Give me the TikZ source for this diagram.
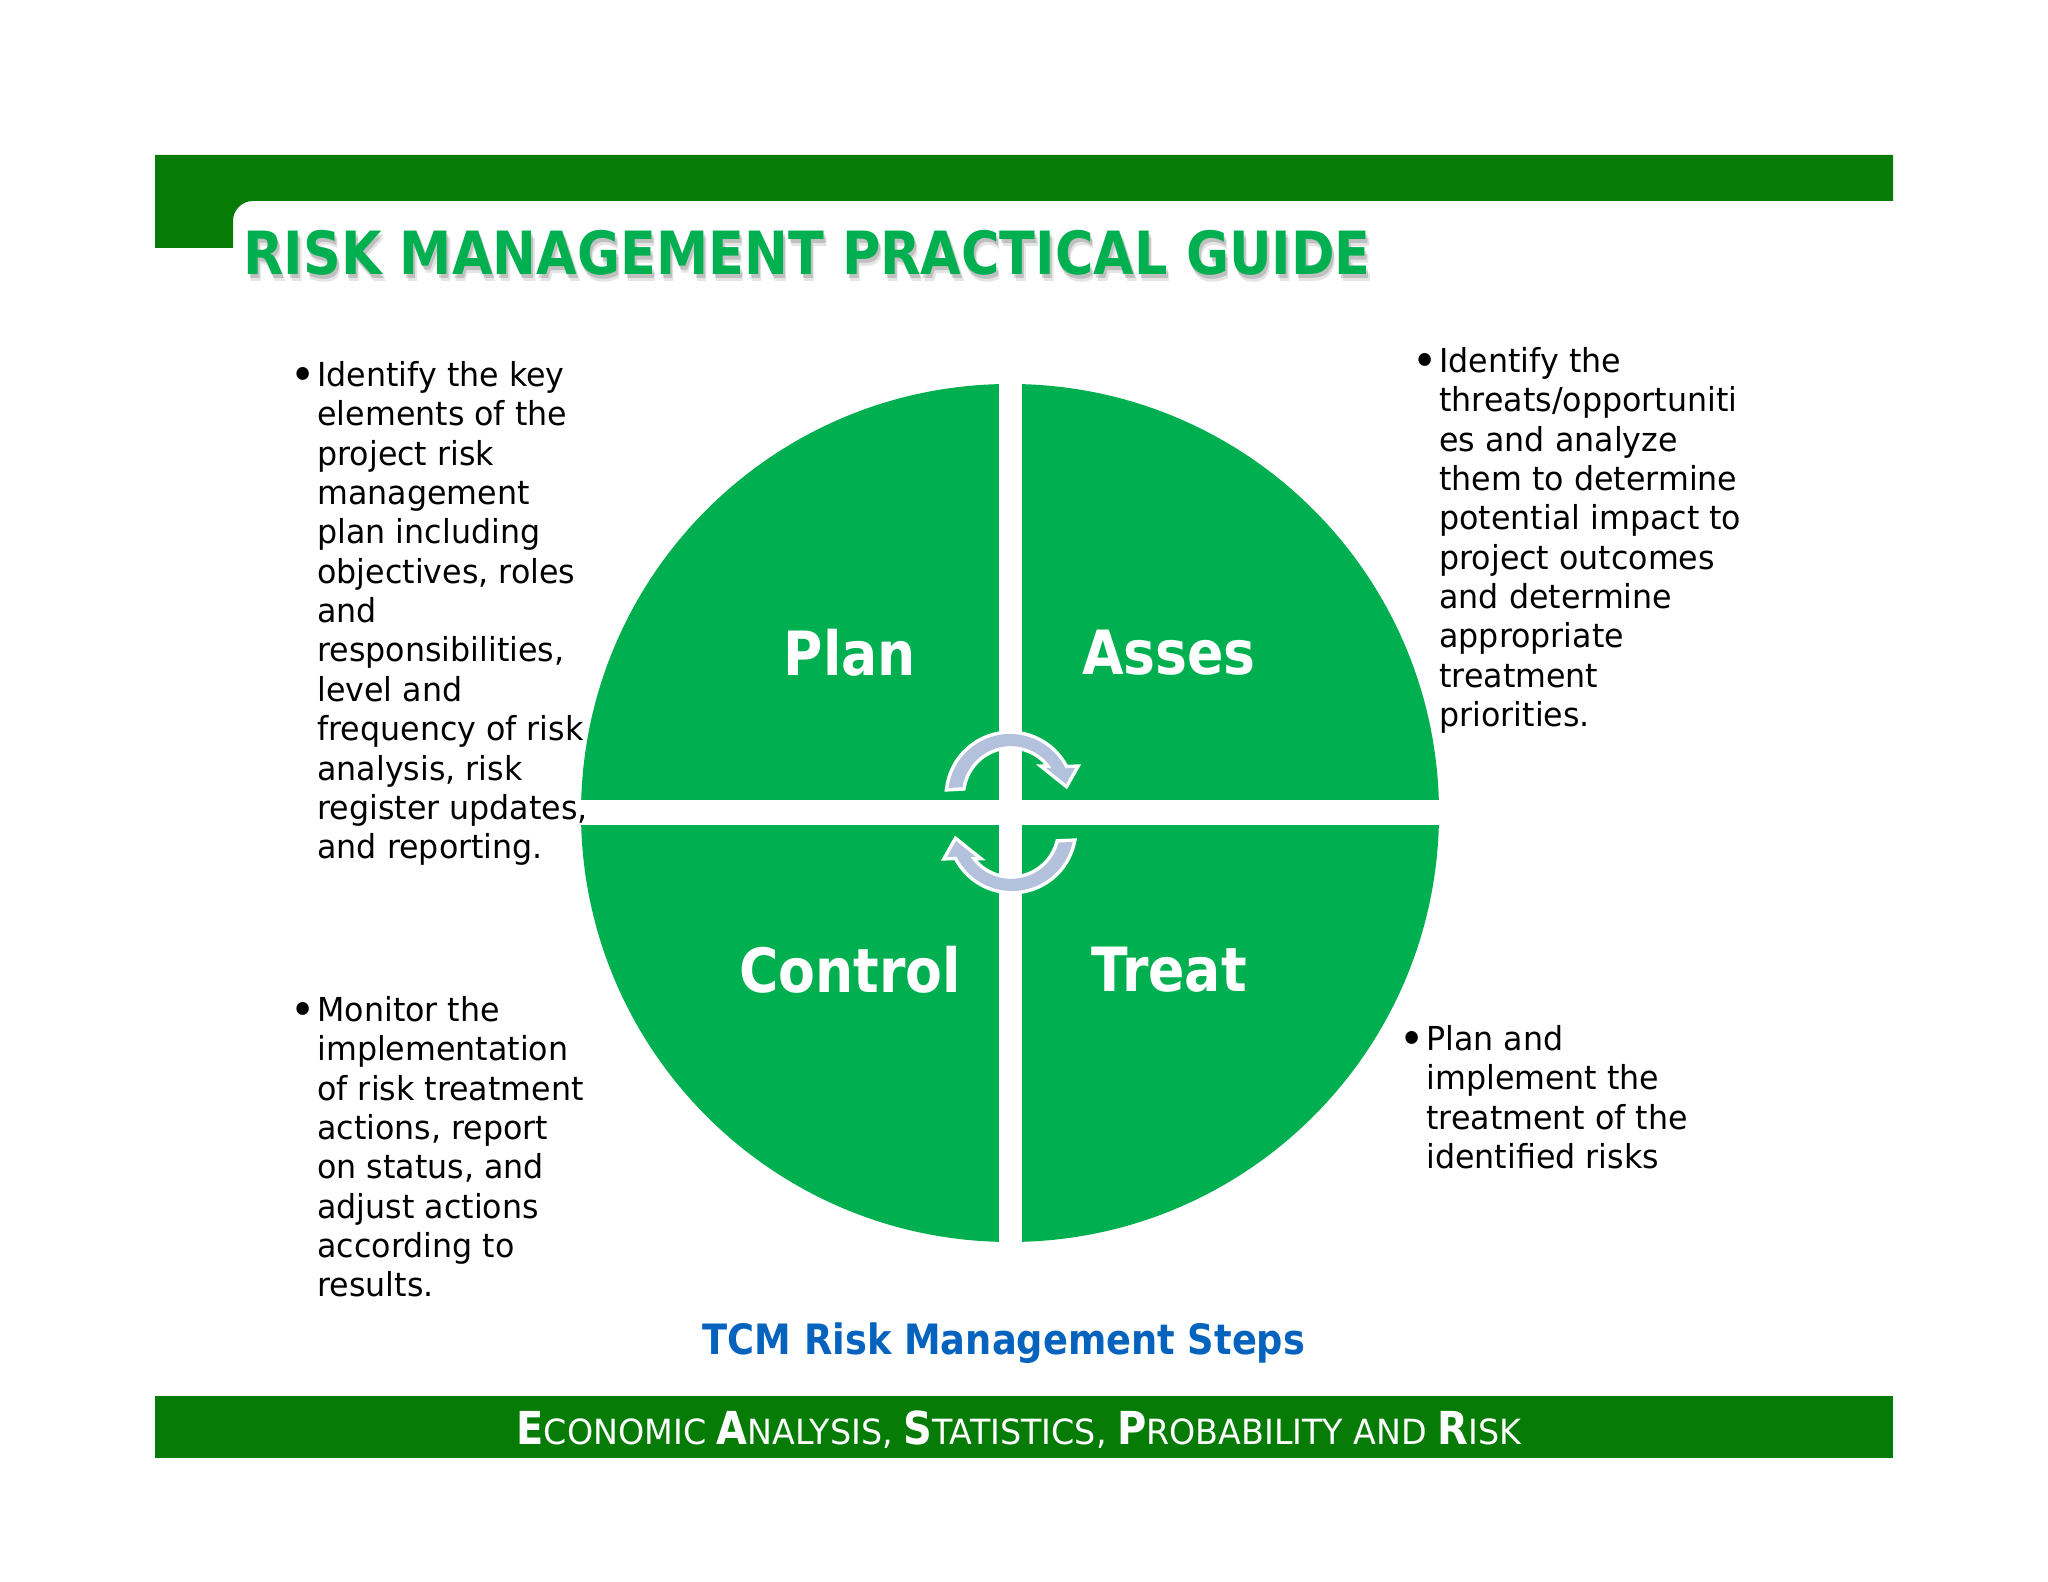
\documentclass[tikz,border=0pt]{standalone}
\usepackage{fontspec}
\setmainfont{DejaVu Sans}[FakeStretch=0.96]
\newfontfamily\tbold{DejaVu Sans}[FakeStretch=0.88]
\definecolor{bargreen}{HTML}{067C06}
\definecolor{quadgreen}{HTML}{00B050}
\definecolor{capblue}{HTML}{0563BD}
\definecolor{arrowfill}{HTML}{B4C1DD}
\tikzset{
  x=0.5pt,y=0.5pt,
  bodytext/.style={anchor=north west,inner sep=0pt,align=left,font=\fontsize{16.5pt}{19.68pt}\selectfont,text=black},
  bulletmark/.style={anchor=north west,inner sep=0pt,font=\fontsize{16.5pt}{19.68pt}\selectfont,text=black},
  quadlabel/.style={inner sep=0pt,text=white,font=\tbold\bfseries\fontsize{30.5pt}{34pt}\selectfont},
  titletext/.style={anchor=base west,inner sep=0pt,font=\tbold\bfseries\fontsize{29.8pt}{34pt}\selectfont},
  turnarrow/.style={fill=arrowfill,line join=miter,preaction={draw=white,line width=3.5pt}},
}
\newcommand{\titlestr}{RISK MANAGEMENT PRACTICAL GUIDE}
\newcommand{\capl}[1]{{\tbold\bfseries\fontsize{22.7pt}{26pt}\selectfont #1}}
\newcommand{\bmark}{\vphantom{Id}\raisebox{-0.12em}{\scalebox{1.35}{•}}}
\begin{document}
\begin{tikzpicture}
\useasboundingbox (0,0) rectangle (2048,1582);
\fill[white] (0,0) rectangle (2048,1582);
% header band
\fill[bargreen] (155,1427) -- (1893,1427) -- (1893,1381) -- (253,1381)
  arc[start angle=90,end angle=180,radius=10pt] -- (233,1334) -- (155,1334) -- cycle;
% footer band
\fill[bargreen] (155,186) rectangle (1893,124);
% title with soft shadow
\foreach \d/\o in {7/0.10,4/0.16}{
  \node[titletext,text=black,opacity=\o] at (243+\d*0.5,1307-\d) {\titlestr};
}
\node[titletext,text=quadgreen] (title) at (243,1307) {\titlestr};
% wheel
\fill[quadgreen] (1010,769) circle[radius=214.5pt];
\fill[white] (998.5,330) rectangle (1021.5,1210);
\fill[white] (560,757) rectangle (1460,781.5);
% turning arrows
\begin{scope}[shift={(1010,786)}]
\path[turnarrow] (172.6:31pt) arc[start angle=172.6,end angle=26.5,radius=31pt]
  -- (65,28) -- (56,12) -- (36,28) -- (41.6,28)
  arc[start angle=33.6,end angle=170.8,radius=24.5pt] -- cycle;
\end{scope}
\begin{scope}[shift={(1012,753)},rotate=180]
\path[turnarrow] (167.9:31pt) arc[start angle=167.9,end angle=26.5,radius=31pt]
  -- (65,28) -- (56,12) -- (36,28) -- (41.6,28)
  arc[start angle=33.6,end angle=165,radius=24.5pt] -- cycle;
\end{scope}
% quadrant labels
\node[quadlabel] (plan) at (850,929) {Plan};
\node[quadlabel] (asses) at (1169,929) {Asses};
\node[quadlabel] (control) at (850,612) {Control};
\node[quadlabel] (treat) at (1169,612) {Treat};
% bullet lists
\node[bulletmark] (b1) at (290,1221) {\bmark};
\node[bodytext] (t1) at (317,1221) {Identify the key\\elements of the\\project risk\\management\\plan including\\objectives, roles\\and\\responsibilities,\\level and\\frequency of risk\\analysis, risk\\register updates,\\and reporting.};
\node[bulletmark] (b2) at (1412,1235) {\bmark};
\node[bodytext] (t2) at (1439,1235) {Identify the\\threats/opportuniti\\es and analyze\\them to determine\\potential impact to\\project outcomes\\and determine\\appropriate\\treatment\\priorities.};
\node[bulletmark] (b3) at (290,586) {\bmark};
\node[bodytext] (t3) at (317,586) {Monitor the\\implementation\\of risk treatment\\actions, report\\on status, and\\adjust actions\\according to\\results.};
\node[bulletmark] (b4) at (1399,557) {\bmark};
\node[bodytext] (t4) at (1426,557) {Plan and\\implement the\\treatment of the\\identified risks};
% caption
\node[inner sep=0pt,text=capblue,font=\tbold\bfseries\fontsize{20.9pt}{24pt}\selectfont] (caption) at (1004,239) {TCM Risk Management Steps};
% footer text
\node[inner sep=0pt,text=white,font=\fontsize{17.35pt}{20pt}\selectfont] (footer) at (1019,152) {\capl{E}CONOMIC \capl{A}NALYSIS, \capl{S}TATISTICS, \capl{P}ROBABILITY AND \capl{R}ISK};
\end{tikzpicture}
\end{document}
